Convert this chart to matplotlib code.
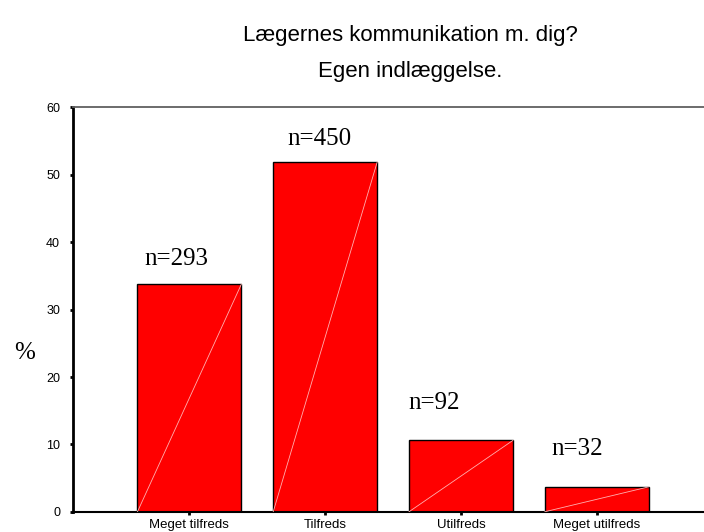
import matplotlib
matplotlib.use("Agg")
import matplotlib.pyplot as plt
import numpy as np

# data
categories = ["Meget tilfreds", "Tilfreds", "Utilfreds", "Meget utilfreds"]
percent = [33.8, 51.9, 10.6, 3.7]
counts = [293, 450, 92, 32]
# where the n= labels sit (data coords, left edge / baseline)
label_x = [-0.335, 0.725, 1.609, 2.669]
label_y = [36.6, 54.4, 15.3, 8.4]

fig = plt.figure(figsize=(7.04, 5.32), dpi=100)
ax = fig.add_axes([0.104, 0.038, 0.896, 0.760])

x = np.arange(len(categories))
w = 0.766
ax.bar(x, percent, width=w, color="#ff0000", edgecolor="black", linewidth=1.0, zorder=2)
# faint diagonal inside each bar
for xi, v in zip(x, percent):
    ax.plot([xi - w / 2, xi + w / 2], [0, v], color="#ffb0b0", lw=0.6, zorder=3)

for lx, ly, n in zip(label_x, label_y, counts):
    ax.text(lx, ly, "n=%d" % n, family="Liberation Serif", fontsize=18,
            ha="left", va="baseline")

ax.set_xlim(-0.856, 3.79)
ax.set_ylim(0, 60)
ax.set_yticks(range(0, 61, 10))
ax.set_xticks(x)
ax.set_xticklabels(categories)
for lab in ax.get_xticklabels():
    lab.set_family("Liberation Sans")
    lab.set_fontsize(9.5)
for lab in ax.get_yticklabels():
    lab.set_family("Liberation Sans")
    lab.set_fontsize(9)
ax.tick_params(axis="both", direction="out", length=2.5, width=2, color="black")
ax.tick_params(axis="y", pad=7)
ax.tick_params(axis="x", pad=3)

ax.spines["right"].set_visible(False)
ax.spines["left"].set_linewidth(2)
ax.spines["bottom"].set_linewidth(1.5)
ax.spines["bottom"].set_clip_on(False)
ax.spines["top"].set_color("#606060")
ax.spines["top"].set_linewidth(1.3)

fig.text(25 / 704, 1 - 353 / 532, "%", family="Liberation Serif", fontsize=18,
         ha="center", va="center")
fig.text(410 / 704, 1 - 36 / 532, "Lægernes kommunikation m. dig?",
         family="Liberation Sans", fontsize=16, ha="center", va="center")
fig.text(410 / 704, 1 - 72 / 532, "Egen indlæggelse.",
         family="Liberation Sans", fontsize=16, ha="center", va="center")

fig.savefig("out.png", dpi=100)
